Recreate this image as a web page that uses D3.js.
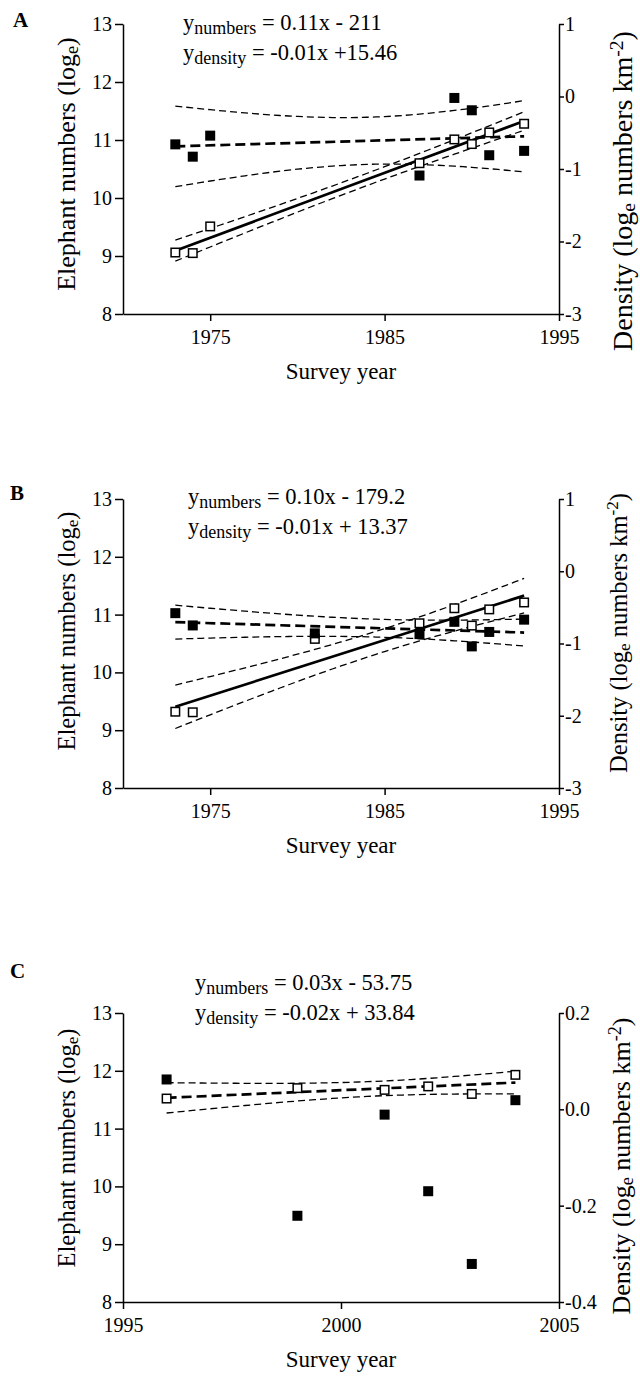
<!DOCTYPE html>
<html>
<head>
<meta charset="utf-8">
<script src="https://cdn.jsdelivr.net/npm/d3@7"></script>
<style>
  html, body { margin: 0; padding: 0; background: #fff; }
  svg { display: block; }
  text { font-family: "Liberation Serif", "Times New Roman", serif; fill: #000; }
</style>
</head>
<body>
<svg id="chart" width="640" height="1376"></svg>
<script>
// ---------- data ----------
const panelLetters = ["A", "B", "C"];

const yearsA   = [1973, 1974, 1975, 1987, 1989, 1990, 1991, 1993];
const numbersA = [9.06, 9.05, 9.51, 10.60, 11.01, 10.93, 11.13, 11.28];
const densityA = [-0.66, -0.83, -0.54, -1.09, -0.02, -0.19, -0.81, -0.75];

const yearsB   = [1973, 1974, 1981, 1987, 1989, 1990, 1991, 1993];
const numbersB = [9.32, 9.31, 10.58, 10.85, 11.11, 10.81, 11.09, 11.21];
const densityB = [-0.58, -0.75, -0.86, -0.87, -0.70, -1.04, -0.84, -0.67];

const yearsC   = [1996, 1999, 2001, 2002, 2003, 2004];
const numbersC = [11.52, 11.70, 11.67, 11.73, 11.60, 11.93];
const densityC = [0.062, -0.221, -0.011, -0.170, -0.321, 0.019];

const xDomainAB = [1970, 1995];
const xDomainC  = [1995, 2005];
const xTicksAB  = [1975, 1985, 1995];
const xTicksC   = [1995, 2000, 2005];
const leftTicks = [8, 9, 10, 11, 12, 13];
const rightTicksAB = [-3, -2, -1, 0, 1];
const rightTicksC  = [-0.4, -0.2, 0.0, 0.2];

const eqNumbers = ["= 0.11x - 211", "= 0.10x - 179.2", "= 0.03x - 53.75"];
const eqDensity = ["= -0.01x +15.46", "= -0.01x + 13.37", "= -0.02x + 33.84"];

const xTitle = "Survey year";

// two-sided 95% t critical values by degrees of freedom
const tCrit = {4: 2.776, 6: 2.447};

// ---------- layout ----------
const svg = d3.select("#chart");
const L = 123, R = 559;

const panels = [
  { letter: panelLetters[0], top: 24, bottom: 314, xDomain: xDomainAB, xTicks: xTicksAB,
    rDomain: [-3, 1], rTicks: rightTicksAB, rFmt: d => String(d),
    years: yearsA, numbers: numbersA, density: densityA,
    fitNumbers: "solid", fitDensity: true,
    letterPos: [13, 27], eqX: 183, eqY: [30, 60],
    lt: { x: 75, y: 164, fs: 26 }, rt: { x: 632, y: 191, fs: 28 } },
  { letter: panelLetters[1], top: 499, bottom: 788, xDomain: xDomainAB, xTicks: xTicksAB,
    rDomain: [-3, 1], rTicks: rightTicksAB, rFmt: d => String(d),
    years: yearsB, numbers: numbersB, density: densityB,
    fitNumbers: "solid", fitDensity: true,
    letterPos: [10, 500], eqX: 188, eqY: [504, 534],
    lt: { x: 75, y: 631, fs: 24.5 }, rt: { x: 627, y: 633, fs: 24.5 } },
  { letter: panelLetters[2], top: 1013, bottom: 1302, xDomain: xDomainC, xTicks: xTicksC,
    rDomain: [-0.4, 0.2], rTicks: rightTicksC, rFmt: d => d.toFixed(1),
    years: yearsC, numbers: numbersC, density: densityC,
    fitNumbers: "dashed", fitDensity: false,
    letterPos: [10, 978], eqX: 195, eqY: [990, 1020],
    lt: { x: 75, y: 1148, fs: 24.5 }, rt: { x: 630, y: 1166, fs: 26 } }
];

function regression(xs, ys) {
  const n = xs.length;
  const mx = d3.mean(xs), my = d3.mean(ys);
  let sxx = 0, sxy = 0;
  xs.forEach((x, i) => { sxx += (x - mx) ** 2; sxy += (x - mx) * (ys[i] - my); });
  const b = sxy / sxx, a = my - b * mx;
  let sse = 0;
  xs.forEach((x, i) => { sse += (ys[i] - (a + b * x)) ** 2; });
  const s = Math.sqrt(sse / (n - 2));
  const t = tCrit[n - 2];
  const x0 = d3.min(xs), x1 = d3.max(xs);
  const pts = d3.range(0, 41).map(k => x0 + (x1 - x0) * k / 40);
  const hw = x => t * s * Math.sqrt(1 / n + (x - mx) ** 2 / sxx);
  return {
    line: [[x0, a + b * x0], [x1, a + b * x1]],
    upper: pts.map(x => [x, a + b * x + hw(x)]),
    lower: pts.map(x => [x, a + b * x - hw(x)])
  };
}

panels.forEach((p, pi) => {
  const g = svg.append("g");
  const x = d3.scaleLinear().domain(p.xDomain).range([L, R]);
  const yL = d3.scaleLinear().domain([8, 13]).range([p.bottom, p.top]);
  const yR = d3.scaleLinear().domain(p.rDomain).range([p.bottom, p.top]);

  // axes
  const ax = g.append("g").attr("transform", `translate(0,${p.bottom})`)
    .call(d3.axisBottom(x).tickValues(p.xTicks).tickFormat(d3.format("d"))
      .tickSize(7).tickPadding(9).tickSizeOuter(0));
  const ay = g.append("g").attr("transform", `translate(${L},0)`)
    .call(d3.axisLeft(yL).tickValues(leftTicks).tickFormat(d3.format("d"))
      .tickSize(8).tickPadding(3).tickSizeOuter(0));
  const ar = g.append("g").attr("transform", `translate(${R},0)`)
    .call(d3.axisRight(yR).tickValues(p.rTicks).tickFormat(p.rFmt)
      .tickSize(5).tickPadding(1).tickSizeOuter(0));
  [ax, ay, ar].forEach(a => {
    a.attr("font-family", null).attr("font-size", null);
    a.selectAll("path, line").attr("stroke", "#000").attr("stroke-width", 1.5);
    a.selectAll("text").attr("font-family", "Liberation Serif").attr("font-size", 20).attr("fill", "#000");
  });

  const line = ys => d3.line().x(d => x(d[0])).y(d => ys(d[1]));

  // numbers fit
  const fn = regression(p.years, p.numbers);
  [fn.upper, fn.lower].forEach(band => {
    g.append("path").datum(band).attr("d", line(yL)).attr("fill", "none")
      .attr("stroke", "#000").attr("stroke-width", 1.3).attr("stroke-dasharray", "7,4");
  });
  g.append("path").datum(fn.line).attr("d", line(yL)).attr("fill", "none")
    .attr("stroke", "#000").attr("stroke-width", 2.7)
    .attr("stroke-dasharray", p.fitNumbers === "solid" ? null : "10,5");

  if (p.fitDensity) {
    const fd = regression(p.years, p.density);
    [fd.upper, fd.lower].forEach(band => {
      g.append("path").datum(band).attr("d", line(yR)).attr("fill", "none")
        .attr("stroke", "#000").attr("stroke-width", 1.3).attr("stroke-dasharray", "7,4");
    });
    g.append("path").datum(fd.line).attr("d", line(yR)).attr("fill", "none")
      .attr("stroke", "#000").attr("stroke-width", 2.7).attr("stroke-dasharray", "10,5");
  }

  // markers
  const sz = 10;
  g.append("g").selectAll("rect").data(p.years.map((yr, i) => [yr, p.numbers[i]])).join("rect")
    .attr("x", d => x(d[0]) - (sz - 1.5) / 2).attr("y", d => yL(d[1]) - (sz - 1.5) / 2)
    .attr("width", sz - 1.5).attr("height", sz - 1.5)
    .attr("fill", "#fff").attr("stroke", "#000").attr("stroke-width", 1.5);
  g.append("g").selectAll("rect").data(p.years.map((yr, i) => [yr, p.density[i]])).join("rect")
    .attr("x", d => x(d[0]) - sz / 2).attr("y", d => yR(d[1]) - sz / 2)
    .attr("width", sz).attr("height", sz).attr("fill", "#000");

  // panel letter
  g.append("text").attr("x", p.letterPos[0]).attr("y", p.letterPos[1])
    .attr("font-size", 21).attr("font-weight", "bold").text(p.letter);

  // equations
  const e1 = g.append("text").attr("x", p.eqX).attr("y", p.eqY[0]).attr("font-size", 22.5);
  e1.append("tspan").text("y");
  e1.append("tspan").attr("font-size", 18).attr("dy", 4).text("numbers");
  e1.append("tspan").attr("dy", -4).text(" " + eqNumbers[pi]);
  const e2 = g.append("text").attr("x", p.eqX).attr("y", p.eqY[1]).attr("font-size", 22.5);
  e2.append("tspan").text("y");
  e2.append("tspan").attr("font-size", 18).attr("dy", 4).text("density");
  e2.append("tspan").attr("dy", -4).text(" " + eqDensity[pi]);

  // x title
  g.append("text").attr("x", (L + R) / 2).attr("y", p.bottom + 65)
    .attr("text-anchor", "middle").attr("font-size", 23).text(xTitle);

  // left y title
  const lt = g.append("text").attr("transform", `translate(${p.lt.x},${p.lt.y}) rotate(-90)`)
    .attr("text-anchor", "middle").attr("font-size", p.lt.fs);
  lt.append("tspan").text("Elephant numbers (log");
  lt.append("tspan").attr("font-size", p.lt.fs * 0.7).attr("dy", 3).text("e");
  lt.append("tspan").attr("dy", -3).text(")");

  // right y title
  const rt = g.append("text").attr("transform", `translate(${p.rt.x},${p.rt.y}) rotate(-90)`)
    .attr("text-anchor", "middle").attr("font-size", p.rt.fs);
  rt.append("tspan").text("Density (log");
  rt.append("tspan").attr("font-size", p.rt.fs * 0.7).attr("dy", 3).text("e");
  rt.append("tspan").attr("dy", -3).text(" numbers km");
  rt.append("tspan").attr("font-size", p.rt.fs * 0.7).attr("dy", -9).text("-2");
  rt.append("tspan").attr("dy", 9).text(")");
});
</script>
</body>
</html>
